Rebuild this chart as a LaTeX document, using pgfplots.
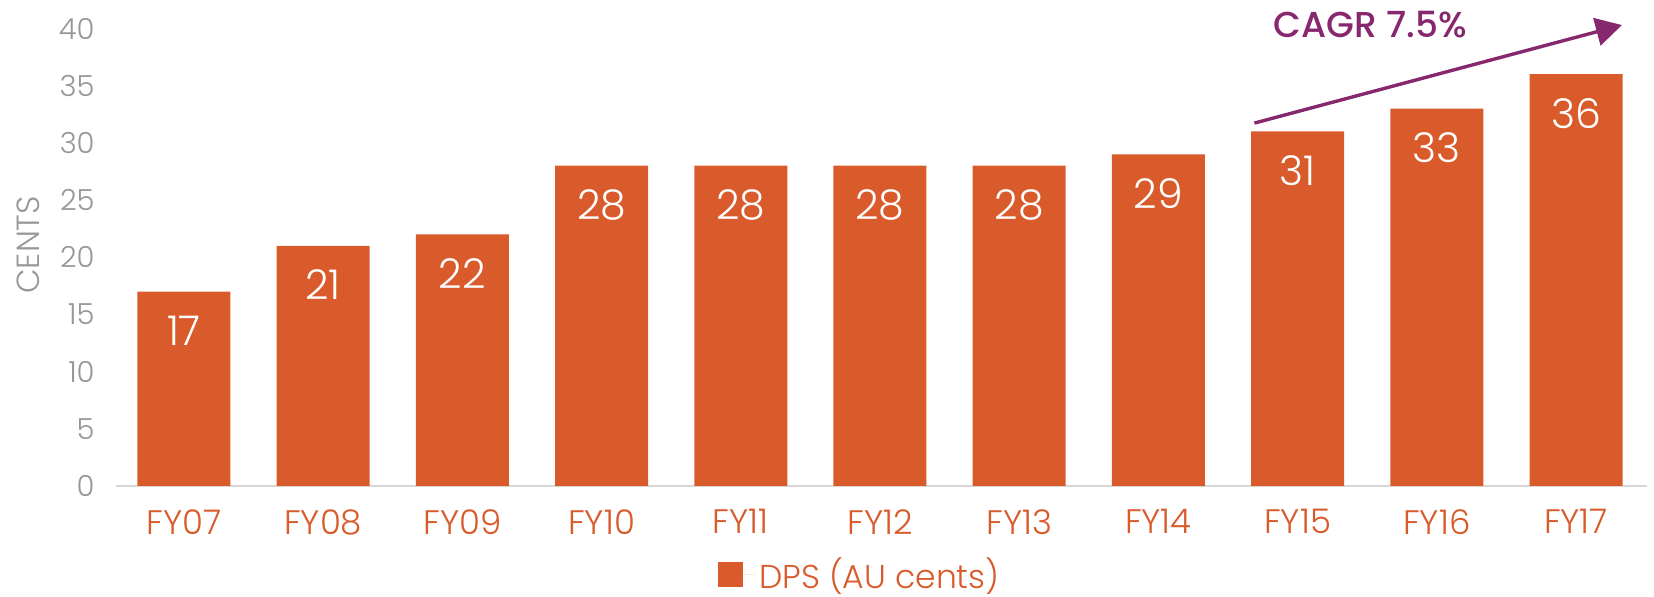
\documentclass[border=0pt]{standalone}
\usepackage{fontspec}
\setmainfont{Poppins}[UprightFont=* Light, BoldFont=* Medium]
\usepackage{pgfplots}
\pgfplotsset{compat=1.18}
\usetikzlibrary{arrows.meta}
\definecolor{barorange}{RGB}{217,90,43}
\definecolor{cagrpurple}{RGB}{135,40,110}
\definecolor{tickgray}{RGB}{150,150,155}
\definecolor{linegray}{RGB}{215,215,215}
\begin{document}
\begin{tikzpicture}
\useasboundingbox (-58pt,-55.5pt) rectangle (769pt,243pt);
\begin{axis}[
  at={(0,0)}, anchor=south west,
  scale only axis, width=765.5pt, height=228.75pt,
  ybar, bar width=46.5pt,
  xmin=-0.488, xmax=10.51, ymin=0, ymax=40,
  axis x line=bottom, axis y line=left,
  x axis line style={draw=linegray, line width=1pt, -},
  y axis line style={draw=none},
  major tick length=0pt,
  xtick=data,
  xticklabels={FY07,FY08,FY09,FY10,FY11,FY12,FY13,FY14,FY15,FY16,FY17},
  xticklabel style={font=\fontsize{17}{17}\selectfont, text=barorange, anchor=north, inner sep=0pt, yshift=-11.5pt},
  ytick={0,5,...,40},
  yticklabel style={font=\fontsize{14.5}{15}\selectfont, text=tickgray, anchor=east, inner sep=0pt, xshift=-10.5pt},
  /pgf/number format/assume math mode=true,
  ylabel={CENTS},
  ylabel style={at={(rel axis cs:-0.0575,0.527)}, anchor=center, font=\fontsize{16}{16}\selectfont, text=tickgray},
  nodes near coords,
  nodes near coords style={font=\fontsize{20.5}{21}\selectfont, text=white, anchor=center, yshift=-19.5pt},
  clip=false,
  legend style={draw=none, fill=none, at={(0.4865,-0.193)}, anchor=center, inner sep=0pt, font=\fontsize{16.5}{17}\selectfont, text=barorange},
  legend image code/.code={\fill[barorange] (0pt,-6.25pt) rectangle (12.5pt,6.25pt); \path (0pt,0pt) -- (18.5pt,0pt);},
]
\addplot[fill=barorange, draw=none] coordinates {
 (0,17) (1,21) (2,22) (3,28) (4,28) (5,28) (6,28) (7,29) (8,31) (9,33) (10,36)
};
\addlegendentry{DPS (AU cents)}
\draw[cagrpurple, line width=1.7pt, -{Triangle[length=13pt, width=14pt]}] (axis cs:7.69,31.73) -- (axis cs:10.33,40.3);
\node[font=\bfseries\fontsize{18}{18}\selectfont, text=cagrpurple] at (axis cs:8.52,40.3) {CAGR 7.5\%};
\end{axis}
\end{tikzpicture}
\end{document}
